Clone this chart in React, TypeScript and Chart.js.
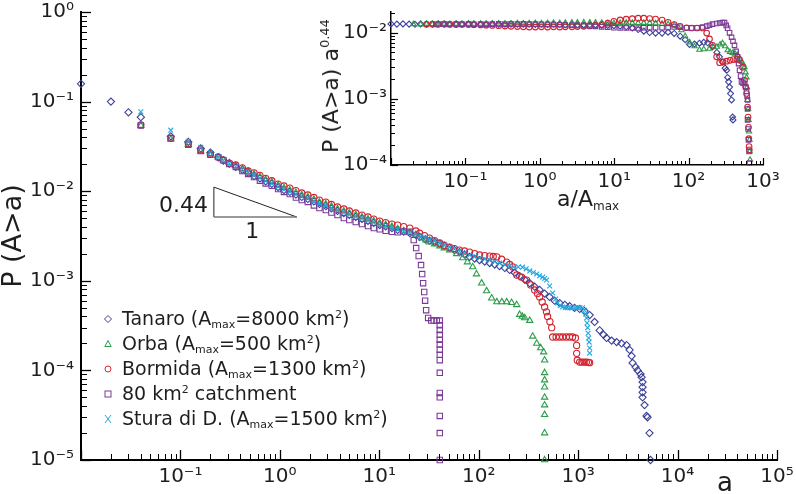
import React, { useEffect, useRef } from 'react';
import { Chart, registerables } from 'chart.js';

Chart.register(...registerables);

const FONT = "'DejaVu Sans', Verdana, sans-serif";
const TEXT = '#1e1e1e';

// ---------- series meta ----------
const SERIES_COLORS = ['#3b4199', '#2c9c4b', '#d3232f', '#7c3a97', '#22a7df'];
const SERIES_MARKERS = ['rectRot', 'triangle', 'circle', 'rect', 'crossRot'];
const SERIES_ORDER = [5, 4, 3, 2, 1];
const MAIN_RADII = [3.6, 3.6, 3.1, 3.8, 3.4];
const INSET_RADII = [3.0, 3.0, 2.8, 3.2];

// legend text pieces: [text, kind] kind: n normal, b subscript, p superscript
const LEGEND_ITEMS: [string, string][][] = [
  [['Tanaro (A', 'n'], ['max', 'b'], ['=8000 km', 'n'], ['2', 'p'], [')', 'n']],
  [['Orba (A', 'n'], ['max', 'b'], ['=500 km', 'n'], ['2', 'p'], [')', 'n']],
  [['Bormida (A', 'n'], ['max', 'b'], ['=1300 km', 'n'], ['2', 'p'], [')', 'n']],
  [['80 km', 'n'], ['2', 'p'], [' catchment', 'n']],
  [['Stura di D. (A', 'n'], ['max', 'b'], ['=1500 km', 'n'], ['2', 'p'], [')', 'n']],
];

// ---------- tick labels ----------
const MAIN_X_EXPS = [-1, 0, 1, 2, 3, 4, 5];
const MAIN_X_LABELS = ['10⁻¹', '10⁰', '10¹', '10²', '10³', '10⁴', '10⁵'];
const MAIN_Y_EXPS = [0, -1, -2, -3, -4, -5];
const MAIN_Y_LABELS = ['10⁰', '10⁻¹', '10⁻²', '10⁻³', '10⁻⁴', '10⁻⁵'];
const INSET_X_EXPS = [-1, 0, 1, 2, 3];
const INSET_X_LABELS = ['10⁻¹', '10⁰', '10¹', '10²', '10³'];
const INSET_Y_EXPS = [-2, -3, -4];
const INSET_Y_LABELS = ['10⁻²', '10⁻³', '10⁻⁴'];

// ---------- slope triangle (data coords) ----------
const TRI_A = [0.217, 1.48];
const TRI_P = [0.0111, 0.00515];

// ---------- main data: [a, P(A>a)] ----------
const TANARO: [number, number][] = [
  [0.01, 0.158], [0.02, 0.1], [0.03, 0.076], [0.04, 0.067], [0.08, 0.041], [0.12, 0.0355], [0.16, 0.03], [0.2, 0.027],
  [0.24, 0.0238], [0.27, 0.022], [0.31, 0.0203], [0.36, 0.0187], [0.42, 0.0173], [0.48, 0.016], [0.55, 0.0148], [0.63, 0.0139],
  [0.72, 0.0129], [0.83, 0.0121], [0.96, 0.0111], [1.1, 0.0103], [1.26, 0.0098], [1.45, 0.00918], [1.66, 0.00862], [1.91, 0.00819],
  [2.2, 0.00768], [2.5, 0.0072], [2.9, 0.00683], [3.3, 0.00642], [3.8, 0.00602], [4.4, 0.00571], [5.0, 0.00543], [5.8, 0.00516],
  [6.7, 0.0049], [7.7, 0.00465], [8.8, 0.00442], [10.1, 0.00419], [11.6, 0.00404], [13.4, 0.00388], [15.3, 0.00369], [17.6, 0.00355],
  [20.3, 0.00341], [23.3, 0.00325],
  [25.5, 0.0031], [29, 0.0029], [32, 0.0028], [36, 0.0027], [40.6, 0.00258], [45, 0.00245], [51, 0.00233], [57, 0.0022],
  [64, 0.00209], [72, 0.00197], [81, 0.00185], [91, 0.00177], [102, 0.0017], [115, 0.00164], [129, 0.00158], [145, 0.00152],
  [162, 0.00146], [183, 0.00139], [205, 0.00132], [230, 0.00123], [258, 0.00113], [290, 0.00103], [326, 0.00094], [365, 0.00086],
  [410, 0.00079], [460, 0.00072], [517, 0.00066], [580, 0.0006], [652, 0.000565], [735, 0.00054], [821, 0.00052], [920, 0.0005],
  [1035, 0.000485], [1160, 0.00046], [1306, 0.000415], [1464, 0.000347], [1644, 0.00028], [1800, 0.00025], [1932, 0.00023],
  [2170, 0.000215], [2436, 0.000207], [2733, 0.0002], [3069, 0.000192], [3294, 0.000169], [3450, 0.000145], [3530, 0.000121],
  [3780, 0.000109], [3963, 0.0001], [4240, 0.000091], [4345, 0.000084], [4445, 0.000074], [4445, 0.000065], [4445, 0.000057],
  [4445, 0.00005], [4655, 0.000041], [4875, 0.000031], [4988, 0.00003], [5218, 0.00002], [5340, 0.00001],
];

const ORBA: [number, number][] = [
  [0.04, 0.054], [0.08, 0.038], [0.12, 0.033], [0.16, 0.028], [0.2, 0.026],
  [0.24, 0.0238], [0.27, 0.0222], [0.31, 0.0207], [0.36, 0.0192], [0.42, 0.0178], [0.48, 0.0166], [0.55, 0.0155], [0.63, 0.0145],
  [0.72, 0.0135], [0.83, 0.0127], [0.96, 0.0117], [1.1, 0.0109], [1.26, 0.0103], [1.45, 0.00966], [1.66, 0.00907], [1.91, 0.00862],
  [2.2, 0.00808], [2.5, 0.00757], [2.9, 0.00719], [3.3, 0.00675], [3.8, 0.00633], [4.4, 0.00601], [5.0, 0.00571], [5.8, 0.00543],
  [6.7, 0.00515], [7.7, 0.00489], [8.8, 0.00465], [10.1, 0.00441], [11.6, 0.00424], [13.4, 0.00403], [15.3, 0.00379], [17.6, 0.00361],
  [20.3, 0.00343], [23.3, 0.00323],
  [26.9, 0.003], [29.5, 0.00285], [32, 0.0027], [36, 0.00257], [40.6, 0.00244], [45, 0.00232], [51, 0.0022], [60, 0.002],
  [69, 0.0018], [77, 0.00162], [87, 0.00143], [95, 0.00119], [107, 0.00094], [120, 0.00077], [135, 0.00064], [152, 0.00058],
  [171, 0.00058], [191, 0.00058], [214, 0.00057], [241, 0.00054], [258, 0.00042], [274, 0.0004], [290, 0.000385], [326, 0.00036],
  [349, 0.00024], [383, 0.0002], [420, 0.000178], [450, 0.00016], [460, 0.00013], [460, 0.000094], [460, 0.000078], [460, 0.000065],
  [460, 0.00005], [460, 0.000041], [460, 0.000032], [460, 0.00002], [460, 0.00001],
];

const BORMIDA: [number, number][] = [
  [0.04, 0.055], [0.08, 0.039], [0.12, 0.034], [0.16, 0.029], [0.2, 0.026],
  [0.24, 0.0241], [0.27, 0.0223], [0.31, 0.0206], [0.36, 0.0196], [0.42, 0.0182], [0.48, 0.0168], [0.55, 0.016], [0.63, 0.015],
  [0.72, 0.0139], [0.83, 0.0131], [0.96, 0.012], [1.1, 0.01145], [1.26, 0.01085], [1.45, 0.01017], [1.66, 0.00955], [1.91, 0.00907],
  [2.2, 0.00851], [2.5, 0.00797], [2.9, 0.00757], [3.3, 0.00711], [3.8, 0.00666], [4.4, 0.00633], [5.0, 0.00602], [5.8, 0.00571],
  [6.7, 0.00542], [7.7, 0.00515], [8.8, 0.00489], [10.1, 0.00464], [11.6, 0.00447], [13.4, 0.0043], [15.3, 0.00419], [17.6, 0.00403],
  [20.3, 0.00388], [23.3, 0.0036],
  [25.5, 0.0034], [28.5, 0.0032], [32, 0.003], [36, 0.0028], [40.6, 0.00264], [45, 0.0025], [51, 0.00238], [57, 0.00229],
  [64, 0.0022], [72, 0.00215], [81, 0.00209], [91, 0.00201], [102, 0.00194], [115, 0.00191], [129, 0.00189], [140, 0.00187],
  [152, 0.00185], [170, 0.00174], [191, 0.00162], [205, 0.00152], [220, 0.00143], [241, 0.00116], [270, 0.0011], [303, 0.00102],
  [333, 0.0009], [365, 0.00079], [390, 0.00072], [410, 0.00066], [435, 0.00058], [460, 0.00051], [480, 0.00045], [493, 0.0004],
  [520, 0.00035], [542, 0.0003], [554, 0.000236], [600, 0.000236], [650, 0.000236], [700, 0.000236], [760, 0.000236], [820, 0.000236],
  [880, 0.000236], [940, 0.00023], [966, 0.00019], [966, 0.000155], [980, 0.00013], [1035, 0.000124], [1090, 0.000124], [1150, 0.000124],
  [1210, 0.000124], [1270, 0.000123], [1306, 0.000122],
];

const CATCH80: [number, number][] = [
  [0.04, 0.054], [0.08, 0.039], [0.12, 0.033], [0.16, 0.028], [0.2, 0.0255],
  [0.24, 0.024], [0.27, 0.0222], [0.31, 0.0201], [0.36, 0.0186], [0.42, 0.0168], [0.48, 0.0156], [0.55, 0.0144], [0.63, 0.0131],
  [0.72, 0.0122], [0.83, 0.0115], [0.96, 0.01056], [1.1, 0.00982], [1.26, 0.0093], [1.45, 0.0085], [1.66, 0.00797], [1.91, 0.00758],
  [2.2, 0.00693], [2.5, 0.00649], [2.9, 0.00616], [3.3, 0.00578], [3.8, 0.00542], [4.4, 0.00502], [5.0, 0.00477], [5.8, 0.00453],
  [6.7, 0.0043], [7.7, 0.00409], [8.8, 0.00388], [10.1, 0.00375], [11.6, 0.00362], [13.4, 0.00352], [15.3, 0.00348], [17.6, 0.00355],
  [20.3, 0.00352],
  [22.2, 0.00285], [23.5, 0.00232], [24.9, 0.00189], [26.3, 0.0015], [27, 0.00119], [27.6, 0.00094], [28.3, 0.00075], [28.9, 0.0006],
  [29.6, 0.00047], [31, 0.000385], [33.3, 0.00036], [35.3, 0.00036], [37.9, 0.00036], [40.6, 0.00036], [40.6, 0.00032], [40.6, 0.000283],
  [40.6, 0.00025], [40.6, 0.00022], [40.6, 0.000195], [40.6, 0.00017], [40.6, 0.00015], [40.6, 0.00013], [40.6, 0.000094], [40.6, 0.000056],
  [40.6, 0.00005], [40.6, 0.000031], [40.6, 0.00002], [40.6, 0.00001],
];

const STURA: [number, number][] = [
  [0.04, 0.077], [0.08, 0.048], [0.12, 0.036], [0.16, 0.031], [0.2, 0.027],
  [0.24, 0.024], [0.27, 0.0221], [0.31, 0.0204], [0.36, 0.0189], [0.42, 0.0175], [0.48, 0.0162], [0.55, 0.015], [0.63, 0.014],
  [0.72, 0.013], [0.83, 0.0122], [0.96, 0.0112], [1.1, 0.0104], [1.26, 0.0099], [1.45, 0.0093], [1.66, 0.00872], [1.91, 0.00828],
  [2.2, 0.00777], [2.5, 0.00728], [2.9, 0.00691], [3.3, 0.00649], [3.8, 0.00608], [4.4, 0.00578], [5.0, 0.0055], [5.8, 0.00522],
  [6.7, 0.00496], [7.7, 0.00471], [8.8, 0.00447], [10.1, 0.00424], [11.6, 0.00409], [13.4, 0.00393], [15.3, 0.00373], [17.6, 0.00359],
  [20.3, 0.00346], [23.3, 0.00329],
  [26, 0.0031], [29, 0.00301], [32, 0.00293], [36, 0.00278], [40.6, 0.00264], [45, 0.0025], [51, 0.00238], [57, 0.00226],
  [64, 0.00215], [72, 0.00204], [81, 0.00194], [91, 0.00186], [102, 0.0018], [115, 0.00175], [129, 0.0017], [145, 0.00164],
  [162, 0.00158], [183, 0.00152], [205, 0.00146], [225, 0.00143], [250, 0.00143], [275, 0.00142], [300, 0.00136], [326, 0.00129],
  [355, 0.00124], [383, 0.00119], [410, 0.00114], [440, 0.0011], [460, 0.00106], [482, 0.00102], [517, 0.000875], [554, 0.00073],
  [594, 0.000626], [622, 0.000565], [660, 0.00053], [697, 0.00051], [740, 0.0005], [782, 0.0005], [830, 0.0005], [876, 0.0005],
  [930, 0.0005], [984, 0.0005], [1040, 0.0005], [1105, 0.0005], [1161, 0.00047], [1190, 0.000426], [1216, 0.000385], [1230, 0.000338],
  [1245, 0.0003], [1260, 0.00026], [1275, 0.00023], [1290, 0.000207], [1306, 0.000178], [1306, 0.000156],
];

// ---------- inset data: [a/Amax, P(A>a) a^0.44] ----------
const TANARO_INSET: [number, number][] = [
  [0.01, 0.0135], [0.012, 0.0134], [0.0145, 0.0135], [0.0175, 0.0134], [0.021, 0.0133], [0.025, 0.0135], [0.03, 0.0134],
  [0.036, 0.0134], [0.043, 0.0136], [0.052, 0.0134], [0.062, 0.0133], [0.075, 0.0135], [0.09, 0.0134], [0.11, 0.0135],
  [0.13, 0.0134], [0.16, 0.0133], [0.19, 0.0134], [0.23, 0.0135], [0.28, 0.0134], [0.34, 0.0133], [0.41, 0.0134],
  [0.5, 0.0133], [0.6, 0.0134], [0.72, 0.0133], [0.87, 0.0132], [1.05, 0.0133], [1.27, 0.0132], [1.53, 0.0133],
  [1.85, 0.0132], [2.2, 0.0131], [2.7, 0.0132], [3.2, 0.0131], [3.9, 0.013], [4.7, 0.0131], [5.6, 0.013], [6.8, 0.0129],
  [8.2, 0.0128], [9.9, 0.0127], [12, 0.0125], [14.5, 0.0122], [17.5, 0.0117], [21, 0.0111], [25, 0.0105], [30, 0.01],
  [36, 0.0098], [44, 0.0098], [53, 0.0101], [64, 0.0097], [77, 0.0088], [90, 0.0078], [103, 0.0066], [120, 0.0067],
  [140, 0.0069], [160, 0.0071], [180, 0.007], [210, 0.0061], [240, 0.005], [260, 0.0043], [285, 0.0036], [310, 0.0029],
  [325, 0.0027], [335, 0.0021], [345, 0.0018], [355, 0.0015], [366, 0.0012], [378, 0.00096], [390, 0.00053], [395, 0.00048],
];

const ORBA_INSET: [number, number][] = [
  [0.02, 0.0134], [0.025, 0.0133], [0.03, 0.0135], [0.036, 0.0134], [0.043, 0.0134], [0.052, 0.0135], [0.062, 0.0134],
  [0.075, 0.0135], [0.09, 0.0134], [0.11, 0.0136], [0.13, 0.0135], [0.16, 0.0136], [0.19, 0.0135], [0.23, 0.0136],
  [0.28, 0.0137], [0.34, 0.0136], [0.41, 0.0137], [0.5, 0.0138], [0.6, 0.0137], [0.72, 0.0138], [0.87, 0.0139],
  [1.05, 0.0138], [1.27, 0.0139], [1.53, 0.014], [1.85, 0.0139], [2.2, 0.014], [2.7, 0.0141], [3.2, 0.0141], [3.9, 0.0142],
  [4.7, 0.0141], [5.6, 0.0141], [6.8, 0.014], [8.2, 0.0139], [9.9, 0.0139], [12, 0.014], [14.5, 0.0141], [17.5, 0.014],
  [21, 0.0139], [25, 0.014], [30, 0.0139], [36, 0.0138], [44, 0.0136], [53, 0.0134], [64, 0.013], [72, 0.0122], [80, 0.0108],
  [90, 0.0088], [103, 0.0071], [120, 0.0062], [140, 0.0055], [160, 0.0056], [190, 0.0057], [215, 0.006], [240, 0.0061],
  [265, 0.0066], [286, 0.0069], [310, 0.0062], [335, 0.0054], [360, 0.0051], [390, 0.0049], [420, 0.0048], [455, 0.0046],
  [490, 0.004], [520, 0.0036], [545, 0.0033], [565, 0.003], [585, 0.0025], [601, 0.0021], [610, 0.0015], [620, 0.00096],
  [630, 0.0007], [639, 0.00048], [650, 0.00032], [659, 0.00024], [665, 0.00016], [670, 0.00012],
];

const BORMIDA_INSET: [number, number][] = [
  [0.03, 0.0133], [0.036, 0.0134], [0.043, 0.0133], [0.052, 0.0134], [0.062, 0.0133], [0.075, 0.0132], [0.09, 0.0133],
  [0.11, 0.0132], [0.13, 0.0131], [0.16, 0.013], [0.19, 0.0129], [0.23, 0.0128], [0.28, 0.0127], [0.34, 0.0125],
  [0.41, 0.0124], [0.5, 0.0123], [0.6, 0.0122], [0.72, 0.0121], [0.87, 0.0121], [1.05, 0.0122], [1.27, 0.0121],
  [1.53, 0.0122], [1.85, 0.0121], [2.2, 0.0122], [2.7, 0.0122], [3.2, 0.0123], [3.9, 0.0124], [4.7, 0.0126], [5.6, 0.0128],
  [6.8, 0.0132], [8.2, 0.0139], [9.9, 0.0148], [12, 0.0155], [14.5, 0.0159], [17.5, 0.0162], [21, 0.0165], [25, 0.0165],
  [30, 0.0163], [36, 0.016], [44, 0.0154], [53, 0.0143], [64, 0.0132], [77, 0.0124], [94, 0.0118], [110, 0.0117],
  [130, 0.0117], [154, 0.0117], [175, 0.0098], [191, 0.008], [210, 0.0064], [238, 0.0043], [261, 0.0035], [290, 0.0036],
  [324, 0.0037], [360, 0.0038], [400, 0.0039], [445, 0.0039], [484, 0.0039], [531, 0.003], [565, 0.0019], [585, 0.0015],
  [601, 0.0012], [620, 0.00075], [630, 0.00053], [639, 0.00037], [645, 0.00025], [650, 0.00019], [655, 0.00017],
];

const CATCH80_INSET: [number, number][] = [
  [0.04, 0.0133], [0.05, 0.0134], [0.06, 0.0133], [0.075, 0.0134], [0.09, 0.0133], [0.11, 0.0134], [0.13, 0.0133],
  [0.16, 0.0134], [0.19, 0.0133], [0.23, 0.0134], [0.28, 0.0135], [0.34, 0.0134], [0.41, 0.0135], [0.5, 0.0134],
  [0.6, 0.0135], [0.72, 0.0134], [0.87, 0.0134], [1.05, 0.0133], [1.27, 0.0133], [1.53, 0.0132], [1.85, 0.0131],
  [2.2, 0.013], [2.7, 0.0129], [3.2, 0.0128], [3.9, 0.0127], [4.7, 0.0126], [5.6, 0.0124], [6.8, 0.0122], [8.2, 0.012],
  [9.9, 0.0118], [12, 0.0117], [14.5, 0.0117], [17.5, 0.0117], [21, 0.0117], [25, 0.0118], [30, 0.0118], [36, 0.0118],
  [44, 0.0118], [53, 0.0119], [64, 0.0121], [77, 0.012], [94, 0.0118], [110, 0.0117], [130, 0.0118], [154, 0.0121],
  [175, 0.0125], [191, 0.0129], [210, 0.0134], [238, 0.0137], [261, 0.0139], [285, 0.0141], [304, 0.0141], [320, 0.0128],
  [334, 0.0116], [355, 0.0099], [378, 0.0085], [395, 0.0074], [414, 0.0064], [435, 0.0052], [455, 0.0043], [470, 0.0034],
  [484, 0.0027], [500, 0.0022], [514, 0.0018], [540, 0.00172], [565, 0.0017], [585, 0.0015], [601, 0.0013], [612, 0.0011],
  [620, 0.00096], [620, 0.0007], [620, 0.00048], [630, 0.00035], [639, 0.00024], [650, 0.00016], [659, 0.000107],
];

const MAIN_SERIES = [TANARO, ORBA, BORMIDA, CATCH80, STURA];
const INSET_SERIES = [TANARO_INSET, ORBA_INSET, BORMIDA_INSET, CATCH80_INSET];

// ---------- helpers ----------
function logTicks(min: number, max: number): number[] {
  const out: number[] = [];
  const e0 = Math.floor(Math.log10(min));
  const e1 = Math.ceil(Math.log10(max));
  for (let e = e0; e <= e1; e++) {
    for (let d = 1; d <= 9; d++) {
      const v = d * Math.pow(10, e);
      if (v >= min * 0.9999 && v <= max * 1.0001) out.push(v);
    }
  }
  return out;
}

function labeler(exps: number[], labels: string[]) {
  return (v: any) => {
    const lg = Math.log10(Number(v));
    const e = Math.round(lg);
    if (Math.abs(lg - e) > 1e-6) return '';
    const i = exps.indexOf(e);
    return i >= 0 ? labels[i] : '';
  };
}

const inTicksPlugin = {
  id: 'inTicks',
  afterDraw(chart: any, _args: any, opts: any) {
    const ctx = chart.ctx;
    const { left, bottom } = chart.chartArea;
    ctx.save();
    ctx.strokeStyle = '#000';
    for (const id of ['x', 'y']) {
      const sc = chart.scales[id];
      for (const t of sc.ticks) {
        const lg = Math.log10(t.value);
        const major = Math.abs(lg - Math.round(lg)) < 1e-6;
        const len = major ? opts.major : opts.minor;
        ctx.lineWidth = major ? opts.majorWidth : opts.minorWidth;
        const p = Math.round(sc.getPixelForValue(t.value)) + 0.5;
        ctx.beginPath();
        if (id === 'x') {
          ctx.moveTo(p, bottom);
          ctx.lineTo(p, bottom - len);
        } else {
          ctx.moveTo(left, p);
          ctx.lineTo(left + len, p);
        }
        ctx.stroke();
      }
    }
    ctx.restore();
  },
};

const slopePlugin = {
  id: 'slopeTri',
  afterDatasetsDraw(chart: any) {
    const ctx = chart.ctx;
    const xs = chart.scales.x;
    const ys = chart.scales.y;
    const x0 = xs.getPixelForValue(TRI_A[0]);
    const x1 = xs.getPixelForValue(TRI_A[1]);
    const y0 = ys.getPixelForValue(TRI_P[0]);
    const y1 = ys.getPixelForValue(TRI_P[1]);
    ctx.save();
    ctx.lineWidth = 1;
    ctx.strokeStyle = '#222';
    ctx.beginPath();
    ctx.moveTo(x1, y1);
    ctx.lineTo(x0, y0);
    ctx.lineTo(x0, y1);
    ctx.stroke();
    ctx.strokeStyle = '#777';
    ctx.lineWidth = 1.5;
    ctx.beginPath();
    ctx.moveTo(x0, y1);
    ctx.lineTo(x1, y1);
    ctx.stroke();
    ctx.fillStyle = TEXT;
    ctx.font = `22px ${FONT}`;
    ctx.textAlign = 'right';
    ctx.textBaseline = 'middle';
    ctx.fillText('0.44', x0 - 6, (y0 + y1) / 2 + 4);
    ctx.textAlign = 'center';
    ctx.textBaseline = 'top';
    ctx.fillText('1', (x0 + x1) / 2 - 3, y1 + 4);
    ctx.restore();
  },
};

function makeDatasets(series: [number, number][][], radii: number[]) {
  return series.map((s, i) => ({
    label: String(i),
    data: s.map(([x, y]) => ({ x, y })),
    pointStyle: SERIES_MARKERS[i] as any,
    pointRadius: radii[i],
    pointHoverRadius: radii[i],
    borderColor: SERIES_COLORS[i],
    backgroundColor: 'rgba(0,0,0,0)',
    pointBorderWidth: 1.1,
    borderWidth: 1.1,
    showLine: false,
    order: SERIES_ORDER[i],
    clip: false as any,
  }));
}

function axisCfg(
  min: number,
  max: number,
  exps: number[],
  labels: string[],
  horizontal: boolean,
  size: number,
  borderW: number,
  pad: number,
  title?: any
) {
  const ticksList = logTicks(min, max);
  return {
    type: 'logarithmic' as const,
    min,
    max,
    grid: { display: false, drawTicks: false },
    border: { display: true, color: '#000', width: borderW },
    title: title || { display: false },
    ticks: {
      autoSkip: false,
      maxRotation: 0,
      minRotation: 0,
      padding: pad,
      color: TEXT,
      font: { family: FONT, size: 20 },
      callback: labeler(exps, labels),
    },
    afterBuildTicks: (s: any) => {
      s.ticks = ticksList.map((v) => ({ value: v }));
    },
    afterFit: (s: any) => {
      if (horizontal) {
        s.height = size;
        s.paddingLeft = 0;
        s.paddingRight = 0;
      } else {
        s.width = size;
        s.paddingTop = 0;
        s.paddingBottom = 0;
      }
    },
  };
}

function Marker({ kind, color }: { kind: string; color: string }) {
  const c = 8;
  const common = { fill: 'none', stroke: color, strokeWidth: 1 };
  if (kind === 'rectRot') return <polygon points={`${c},${c - 3.5} ${c + 3.5},${c} ${c},${c + 3.5} ${c - 3.5},${c}`} {...common} />;
  if (kind === 'triangle') return <polygon points={`${c},${c - 3.5} ${c + 3.2},${c + 2.5} ${c - 3.2},${c + 2.5}`} {...common} />;
  if (kind === 'circle') return <circle cx={c} cy={c} r={3} {...common} />;
  if (kind === 'rect') return <rect x={c - 3} y={c - 3} width={6} height={6} {...common} />;
  return (
    <g {...common}>
      <line x1={c - 3} y1={c - 4} x2={c + 3} y2={c + 4} />
      <line x1={c + 3} y1={c - 4} x2={c - 3} y2={c + 4} />
    </g>
  );
}

function Legend() {
  return (
    <div
      style={{
        position: 'absolute',
        left: 100,
        top: 306,
        fontFamily: FONT,
        fontSize: 19,
        color: TEXT,
        lineHeight: 1,
      }}
    >
      {LEGEND_ITEMS.map((parts, i) => (
        <div key={i} style={{ height: 25, display: 'flex', alignItems: 'center', whiteSpace: 'nowrap' }}>
          <svg width={16} height={16} style={{ display: 'block' }}>
            <Marker kind={SERIES_MARKERS[i]} color={SERIES_COLORS[i]} />
          </svg>
          <span style={{ marginLeft: 6 }}>
            {parts.map(([t, k], j) =>
              k === 'n' ? (
                <span key={j}>{t}</span>
              ) : k === 'b' ? (
                <span key={j} style={{ fontSize: 11, position: 'relative', top: 3 }}>
                  {t}
                </span>
              ) : (
                <span key={j} style={{ fontSize: 11, position: 'relative', top: -7 }}>
                  {t}
                </span>
              )
            )}
          </span>
        </div>
      ))}
    </div>
  );
}

export default function App() {
  const mainRef = useRef<HTMLCanvasElement | null>(null);
  const insetRef = useRef<HTMLCanvasElement | null>(null);

  useEffect(() => {
    if (!mainRef.current || !insetRef.current) return;
    const main = new Chart(mainRef.current, {
      type: 'scatter',
      data: { datasets: makeDatasets(MAIN_SERIES, MAIN_RADII) as any },
      options: {
        responsive: false,
        animation: false,
        devicePixelRatio: 1,
        events: [],
        layout: { padding: { left: 0, right: 19, top: 12, bottom: 0 } },
        plugins: {
          legend: { display: false },
          tooltip: { enabled: false },
          inTicks: { major: 10, minor: 6, majorWidth: 1.3, minorWidth: 1 },
        } as any,
        scales: {
          x: axisCfg(0.01, 1e5, MAIN_X_EXPS, MAIN_X_LABELS, true, 34, 2, 5) as any,
          y: axisCfg(1e-5, 1, MAIN_Y_EXPS, MAIN_Y_LABELS, false, 81, 2, 7, {
            display: true,
            text: 'P (A>a)',
            color: TEXT,
            font: { family: FONT, size: 27, lineHeight: 1 },
            padding: { top: 0, bottom: 0 },
          }) as any,
        },
      },
      plugins: [inTicksPlugin, slopePlugin],
    });
    const inset = new Chart(insetRef.current, {
      type: 'scatter',
      data: { datasets: makeDatasets(INSET_SERIES, INSET_RADII) as any },
      options: {
        responsive: false,
        animation: false,
        devicePixelRatio: 1,
        events: [],
        layout: { padding: { left: 0, right: 33, top: 12, bottom: 0 } },
        plugins: {
          legend: { display: false },
          tooltip: { enabled: false },
          inTicks: { major: 7, minor: 4, majorWidth: 1.2, minorWidth: 1 },
        } as any,
        scales: {
          x: axisCfg(0.01, 1000, INSET_X_EXPS, INSET_X_LABELS, true, 75, 1.5, 5) as any,
          y: axisCfg(1e-4, Math.pow(10, -1.69), INSET_Y_EXPS, INSET_Y_LABELS, false, 81, 1.5, 4) as any,
        },
      },
      plugins: [inTicksPlugin],
    });
    return () => {
      main.destroy();
      inset.destroy();
    };
  }, []);

  return (
    <div style={{ position: 'absolute', left: 0, top: 0, width: 796, height: 494, background: '#fff', overflow: 'hidden' }}>
      <canvas ref={mainRef} width={796} height={494} style={{ position: 'absolute', left: 0, top: 0 }} />
      <canvas ref={insetRef} width={486} height={240} style={{ position: 'absolute', left: 310, top: 0 }} />
      <Legend />
      <div style={{ position: 'absolute', left: 717, top: 469, fontFamily: FONT, fontSize: 26, lineHeight: 1, color: TEXT }}>a</div>
      <div style={{ position: 'absolute', left: 557, top: 188, fontFamily: FONT, fontSize: 22, lineHeight: 1, color: TEXT, whiteSpace: 'nowrap' }}>
        a/A<span style={{ fontSize: 12, position: 'relative', top: 4 }}>max</span>
      </div>
      <div
        style={{
          position: 'absolute',
          left: 331,
          top: 86,
          transform: 'translate(-50%, -50%) rotate(-90deg)',
          fontFamily: FONT,
          fontSize: 22,
          lineHeight: 1,
          color: TEXT,
          whiteSpace: 'nowrap',
        }}
      >
        P (A&gt;a) a<span style={{ fontSize: 13, position: 'relative', top: -9 }}>0.44</span>
      </div>
    </div>
  );
}
